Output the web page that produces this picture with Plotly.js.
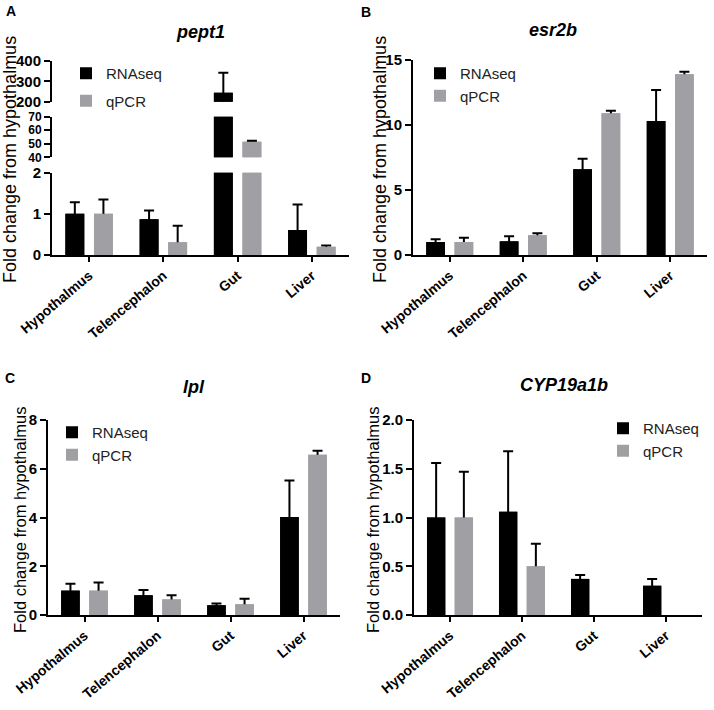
<!DOCTYPE html>
<html>
<head>
<meta charset="utf-8">
<script src="https://cdn.plot.ly/plotly-3.0.1.min.js"></script>
<style>
  html, body { margin: 0; padding: 0; background: #fff; }
  #chart { width: 714px; height: 710px; }
</style>
</head>
<body>
<div id="chart"></div>
<script>
var tissues = ['Hypothalmus', 'Telencephalon', 'Gut', 'Liver'];
var seriesNames = ['RNAseq', 'qPCR'];

// A - pept1
var pept1Rna = [1.0, 0.87, 244, 0.61];
var pept1RnaErr = [0.28, 0.21, 98, 0.62];
var pept1Qpcr = [1.0, 0.31, 51.5, 0.2];
var pept1QpcrErr = [0.35, 0.40, 0.8, 0.03];

// B - esr2b
var esr2bRna = [1.0, 1.05, 6.6, 10.3];
var esr2bRnaErr = [0.22, 0.4, 0.8, 2.4];
var esr2bQpcr = [1.0, 1.52, 10.9, 13.9];
var esr2bQpcrErr = [0.32, 0.15, 0.2, 0.2];

// C - lpl
var lplRna = [1.0, 0.81, 0.4, 4.02];
var lplRnaErr = [0.28, 0.22, 0.07, 1.5];
var lplQpcr = [1.0, 0.64, 0.44, 6.57];
var lplQpcrErr = [0.33, 0.17, 0.23, 0.17];

// D - CYP19a1b
var cypRna = [1.0, 1.06, 0.37, 0.3];
var cypRnaErr = [0.56, 0.62, 0.04, 0.07];
var cypQpcr = [1.0, 0.5, null, null];
var cypQpcrErr = [0.47, 0.23, null, null];

var W = 714, H = 710;
var FONT = 'Arial, "Liberation Sans", sans-serif';
var colors = ['#000000', '#a0a0a4'];

function px(x) { return x / W; }
function py(y) { return 1 - y / H; }

var traces = [];

// bar with error underneath, plain copy on top so only the upper whisker shows
function addSeries(i, vals, errs, xa, ya, lg, show) {
    var name = seriesNames[i];
    traces.push({
        type: 'bar', x: tissues, y: vals, xaxis: xa, yaxis: ya,
        offsetgroup: name, legend: lg, legendgroup: name, showlegend: false,
        marker: {color: colors[i], line: {width: 0}},
        error_y: {type: 'data', array: errs, symmetric: true, color: '#000', thickness: 2, width: 5},
        hoverinfo: 'skip'
    });
    traces.push({
        type: 'bar', name: name, x: tissues, y: vals, xaxis: xa, yaxis: ya,
        offsetgroup: name, legend: lg, legendgroup: name, showlegend: show,
        marker: {color: colors[i], line: {width: 0}}
    });
}

// A uses three stacked y axes for the broken scale
['y', 'y2', 'y3'].forEach(function(ya, k) {
    addSeries(0, pept1Rna, pept1RnaErr, 'x', ya, 'legend', k === 0);
    addSeries(1, pept1Qpcr, pept1QpcrErr, 'x', ya, 'legend', k === 0);
});
addSeries(0, esr2bRna, esr2bRnaErr, 'x2', 'y4', 'legend2', true);
addSeries(1, esr2bQpcr, esr2bQpcrErr, 'x2', 'y4', 'legend2', true);
addSeries(0, lplRna, lplRnaErr, 'x3', 'y5', 'legend3', true);
addSeries(1, lplQpcr, lplQpcrErr, 'x3', 'y5', 'legend3', true);
addSeries(0, cypRna, cypRnaErr, 'x4', 'y6', 'legend4', true);
addSeries(1, cypQpcr, cypQpcrErr, 'x4', 'y6', 'legend4', true);

function xAxis(x0, x1, anchor) {
    return {
        domain: [px(x0), px(x1)], anchor: anchor, type: 'category',
        range: [-0.5, 3.5], showline: true, linewidth: 2, linecolor: '#000',
        ticks: 'outside', ticklen: 5, tickwidth: 2, tickcolor: '#000',
        tickangle: -40, autotickangles: [-40],
        tickfont: {family: FONT, size: 14, weight: 'bold', color: '#000'},
        showgrid: false, zeroline: false, fixedrange: true
    };
}

function yAxis(yBottom, yTop, anchor, range, dtick, fs) {
    return {
        domain: [py(yBottom), py(yTop)], anchor: anchor, range: range,
        tick0: range[0], dtick: dtick,
        showline: true, linewidth: 2, linecolor: '#000',
        ticks: 'outside', ticklen: 6, tickwidth: 2, tickcolor: '#000',
        tickfont: {family: FONT, size: fs || 15, weight: 'bold', color: '#000'},
        showgrid: false, zeroline: false, fixedrange: true
    };
}

function legendAt(x, y, gap) {
    return {
        x: px(x), y: py(y), xanchor: 'left', yanchor: 'top',
        bgcolor: 'rgba(0,0,0,0)', borderwidth: 0, tracegroupgap: gap,
        font: {family: FONT, size: 15, color: '#222'}
    };
}

function label(text, x, y, size, extra) {
    var a = {
        text: text, xref: 'paper', yref: 'paper', x: px(x), y: py(y),
        xanchor: 'center', yanchor: 'middle', showarrow: false,
        font: {family: FONT, size: size, color: '#000'}
    };
    for (var k in extra) a[k] = extra[k];
    return a;
}

var annotations = [
    label('A', 11, 11, 14), label('B', 366, 12, 14),
    label('C', 10, 378, 14), label('D', 366, 378, 14),
    label('pept1', 200, 32, 18), label('esr2b', 553, 30, 18),
    label('lpl', 194, 387, 18), label('CYP19a1b', 564, 385, 18),
    label('Fold change from hypothalmus', 10, 160, 18, {textangle: -90}),
    label('Fold change from hypothalmus', 380, 160, 18, {textangle: -90}),
    label('Fold change from hypothalmus', 20, 520, 16.5, {textangle: -90}),
    label('Fold change from hypothalmus', 373, 520, 16.5, {textangle: -90})
];
annotations.forEach(function(a, i) {
    if (i < 8) a.font.weight = 'bold';
    if (i >= 4 && i < 8) a.font.style = 'italic';
});

var layout = {
    width: W, height: H,
    margin: {l: 0, r: 0, t: 0, b: 0},
    paper_bgcolor: '#fff', plot_bgcolor: 'rgba(0,0,0,0)',
    font: {family: FONT, color: '#000'},
    barmode: 'group', bargap: 0.23, bargroupgap: 0.34,
    xaxis: xAxis(52, 349, 'y'),
    yaxis: yAxis(255, 172.7, 'x', [0, 2], 1),
    yaxis2: yAxis(157.3, 116.7, 'x', [40, 70], 10, 12),
    yaxis3: yAxis(101.7, 61, 'x', [200, 400], 100),
    xaxis2: xAxis(413, 707, 'y4'),
    yaxis4: yAxis(255, 60, 'x2', [0, 15], 5),
    xaxis3: xAxis(48, 340, 'y5'),
    yaxis5: yAxis(615, 420, 'x3', [0, 8], 2),
    xaxis4: xAxis(414, 702, 'y6'),
    yaxis6: yAxis(615, 420, 'x4', [0, 2], 0.5),
    legend: legendAt(66, 57, 5),
    legend2: legendAt(420, 57, 0),
    legend3: legendAt(52, 416, 0),
    legend4: legendAt(603, 412, 0),
    annotations: annotations
};
layout.yaxis6.tickformat = '.1f';

Plotly.newPlot('chart', traces, layout, {displayModeBar: false, staticPlot: true});
</script>
</body>
</html>
